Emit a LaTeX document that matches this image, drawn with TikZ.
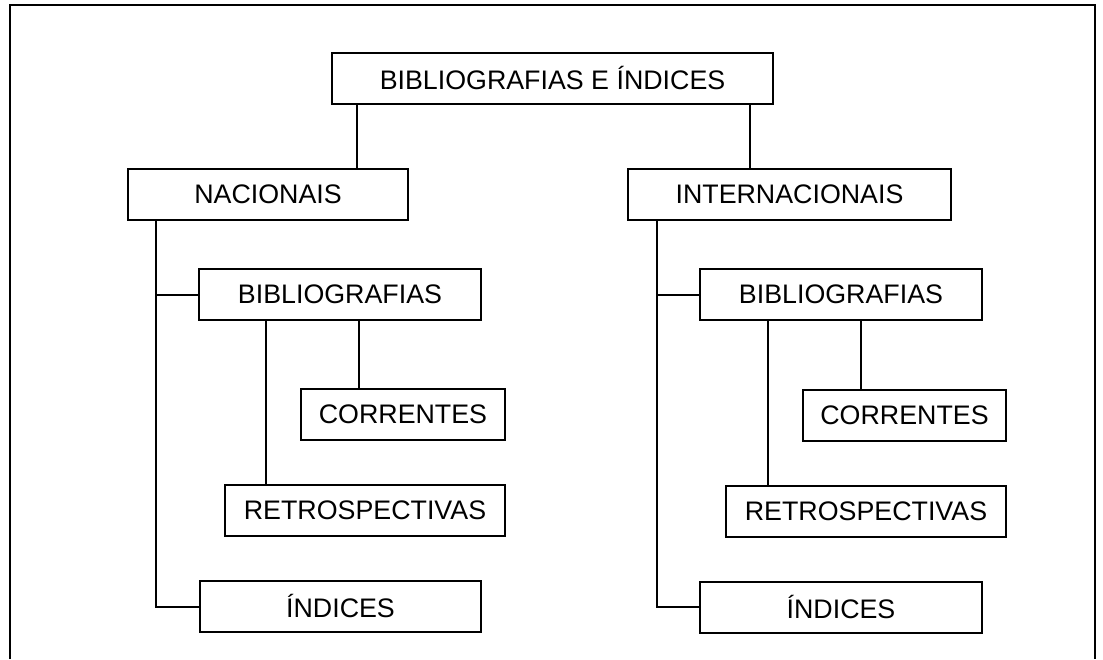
\documentclass[tikz,border=0pt]{standalone}
\usepackage{fontspec}
\setmainfont{Liberation Sans}
\usepackage{tikz}
\usetikzlibrary{calc}

\tikzset{
  caixa/.style = {shape = rectangle, minimum height = 25.5pt, inner sep = 0pt, align = center, draw = black, line width = 1pt, fill = white, font = \fontsize{13.4pt}{16pt}\selectfont},
  liga/.style = {draw = black, line width = 1pt}
}

\begin{document}
\begin{tikzpicture}
\useasboundingbox (0pt,0pt) rectangle (551.5pt,-329.5pt);
% moldura aberta em baixo
\draw[line width = 0.8pt] (5pt,-329.5pt) -- (5pt,-2.5pt) -- (547.5pt,-2.5pt) -- (547.5pt,-329.5pt);

\node[caixa, minimum width = 220.5pt] (topo) at (276.25pt,-39.25pt) {BIBLIOGRAFIAS E ÍNDICES};
\node[caixa, minimum width = 140pt] (nac) at (134pt,-97.25pt) {NACIONAIS};
\node[caixa, minimum width = 161.5pt] (int) at (394.75pt,-97.25pt) {INTERNACIONAIS};

\node[caixa, minimum width = 141pt] (bibN) at (170pt,-147.25pt) {BIBLIOGRAFIAS};
\node[caixa, minimum width = 102pt] (corN) at (201.5pt,-207.25pt) {CORRENTES};
\node[caixa, minimum width = 140pt] (retN) at (182.5pt,-255.25pt) {RETROSPECTIVAS};
\node[caixa, minimum width = 140.5pt] (indN) at (170.25pt,-303.25pt) {ÍNDICES};

\node[caixa, minimum width = 141pt] (bibI) at (420.5pt,-147.25pt) {BIBLIOGRAFIAS};
\node[caixa, minimum width = 101.5pt] (corI) at (452.25pt,-207.5pt) {CORRENTES};
\node[caixa, minimum width = 140pt] (retI) at (433pt,-255.5pt) {RETROSPECTIVAS};
\node[caixa, minimum width = 141pt] (indI) at (420.5pt,-303.5pt) {ÍNDICES};

% ramos do topo
\draw[liga] ([xshift=13pt]topo.south west) -- ([xshift=13pt]topo.south west |- nac.north);
\draw[liga] ([xshift=-12pt]topo.south east) -- ([xshift=-12pt]topo.south east |- int.north);

% nacionais
\coordinate (ramoN) at ([xshift=14.5pt]nac.south west);
\draw[liga] (ramoN) |- (indN.west);
\draw[liga] (bibN.west) -- (bibN.west -| ramoN);
\draw[liga] ([xshift=29.5pt]corN.north west) -- ([xshift=29.5pt]corN.north west |- bibN.south);
\draw[liga] ([xshift=21pt]retN.north west) -- ([xshift=21pt]retN.north west |- bibN.south);

% internacionais
\coordinate (ramoI) at ([xshift=15pt]int.south west);
\draw[liga] (ramoI) |- (indI.west);
\draw[liga] (bibI.west) -- (bibI.west -| ramoI);
\draw[liga] ([xshift=29.5pt]corI.north west) -- ([xshift=29.5pt]corI.north west |- bibI.south);
\draw[liga] ([xshift=21.5pt]retI.north west) -- ([xshift=21.5pt]retI.north west |- bibI.south);
\end{tikzpicture}
\end{document}
